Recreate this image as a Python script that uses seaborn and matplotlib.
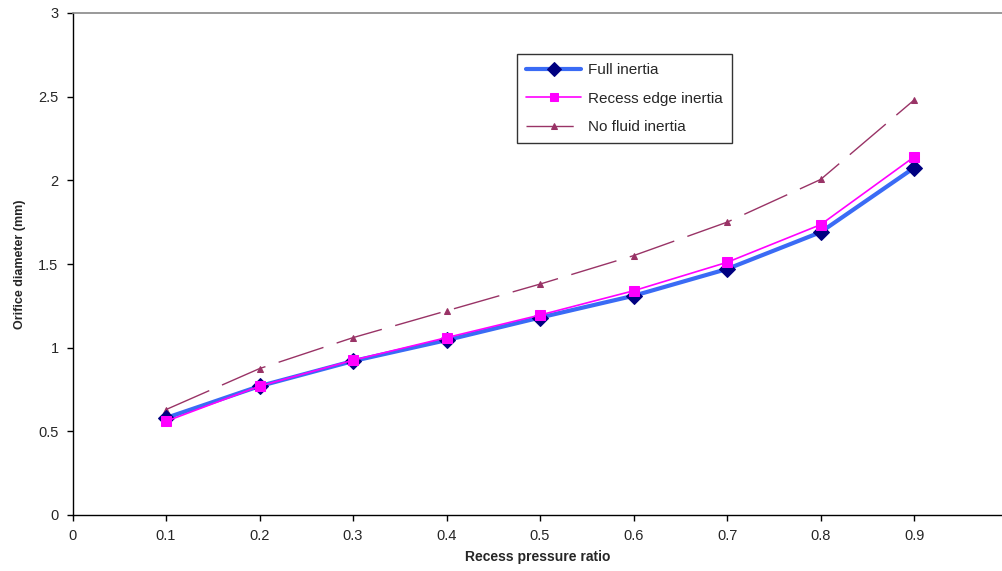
import matplotlib
matplotlib.use("Agg")
import matplotlib.pyplot as plt
import seaborn as sns
import pandas as pd

sns.set_style("white")
plt.rcParams['font.family'] = ['Liberation Sans', 'DejaVu Sans']

x = [0.1, 0.2, 0.3, 0.4, 0.5, 0.6, 0.7, 0.8, 0.9]
full_inertia = [0.58, 0.77, 0.92, 1.045, 1.18, 1.31, 1.47, 1.69, 2.075]
recess_edge = [0.56, 0.77, 0.925, 1.06, 1.195, 1.34, 1.51, 1.735, 2.14]
no_fluid = [0.63, 0.875, 1.06, 1.22, 1.38, 1.55, 1.75, 2.005, 2.48]
xticks = [0, 0.1, 0.2, 0.3, 0.4, 0.5, 0.6, 0.7, 0.8, 0.9]
yticks = [0, 0.5, 1, 1.5, 2, 2.5, 3]
ytick_labels = ["0", "0.5", "1", "1.5", "2", "2.5", "3"]

W, H = 1002, 571
fig = plt.figure(figsize=(W / 100, H / 100), dpi=100)
ax_left, ax_bottom, ax_top = 72.5, 515, 13
ax = fig.add_axes([ax_left / W, (H - ax_bottom) / H, (W - ax_left) / W, (ax_bottom - ax_top) / H])

df = pd.DataFrame({"x": x, "full": full_inertia, "recess": recess_edge, "nofluid": no_fluid})

sns.lineplot(data=df, x="x", y="full", ax=ax, color="#3A6BF5", lw=3.0,
             marker="D", markersize=8, markerfacecolor="#000080", markeredgecolor="#000080",
             label="Full inertia", zorder=3)
sns.lineplot(data=df, x="x", y="recess", ax=ax, color="#FF00FF", lw=1.2,
             marker="s", markersize=7, markerfacecolor="#FF00FF", markeredgecolor="#FF00FF",
             label="Recess edge inertia", zorder=4)
sns.lineplot(data=df, x="x", y="nofluid", ax=ax, color="#993366", lw=1.0,
             linestyle=(0, (34, 10)),
             marker="^", markersize=5, markerfacecolor="#993366", markeredgecolor="#993366",
             label="No fluid inertia", zorder=2)

ax.set_xlim(0, 0.994)
ax.set_ylim(0, 3)
ax.set_xticks(xticks)
ax.set_xticklabels([("0" if t == 0 else f"{t:g}") for t in xticks], fontsize=10.5)
ax.set_yticks(yticks)
ax.set_yticklabels(ytick_labels, fontsize=10.5)
ax.tick_params(axis="both", direction="out", length=4, width=1, color="black",
               bottom=True, left=True, pad=6)

ax.set_xlabel("Recess pressure ratio", fontsize=10, fontweight="bold", labelpad=5)
ax.set_ylabel("Orifice diameter (mm)", fontsize=9, fontweight="bold", labelpad=9)

ax.spines["right"].set_visible(False)
ax.spines["top"].set_color("#888888")
ax.spines["top"].set_linewidth(1.2)
for s in ["left", "bottom"]:
    ax.spines[s].set_color("black")
    ax.spines[s].set_linewidth(1)

ax_w = W - ax_left
ax_h = ax_bottom - ax_top
leg = ax.legend(loc="upper left", bbox_to_anchor=((517 - ax_left) / ax_w, 1 - (54 - ax_top) / ax_h),
                frameon=True, fontsize=11, handlelength=3.6, labelspacing=0.95,
                borderpad=0.6, borderaxespad=0, fancybox=False, edgecolor="black",
                handletextpad=0.45, markerscale=0.9)
leg.get_frame().set_linewidth(1)

fig.savefig("out.png", dpi=100)
